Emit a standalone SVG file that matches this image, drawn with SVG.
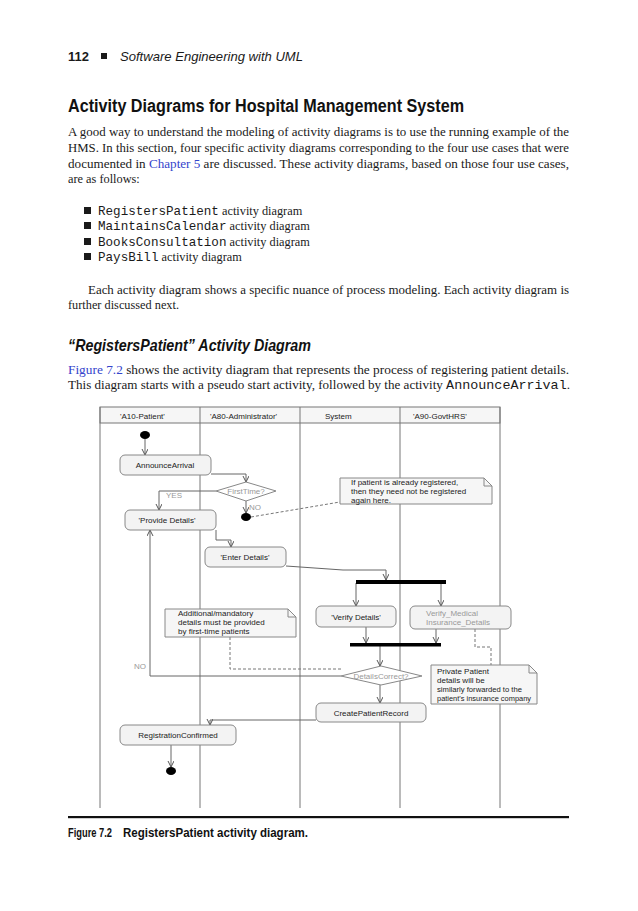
<svg xmlns="http://www.w3.org/2000/svg" width="638" height="911" viewBox="0 0 638 911">
<style>
.serif{font-family:"Liberation Serif","Times New Roman",serif;font-size:12.3px;fill:#1a1a1a}
.mono{font-family:"Liberation Mono","Courier New",monospace;font-size:12.6px;fill:#1a1a1a}
.sans{font-family:"Liberation Sans",Arial,sans-serif}
.d{font-family:"Liberation Sans",Arial,sans-serif;font-size:8px;fill:#222}
.g{font-family:"Liberation Sans",Arial,sans-serif;font-size:8px;fill:#999}
.box{fill:#f3f3f3;stroke:#888;stroke-width:1}
.note{fill:#f6f6f6;stroke:#888;stroke-width:1}
.lane{stroke:#777;stroke-width:1;fill:none}
.c{fill:none;stroke:#666;stroke-width:1;marker-end:url(#ah)}
.dash{fill:none;stroke:#777;stroke-width:1;stroke-dasharray:3,2}
.blue{fill:#3344cc}
</style>
<defs>
<marker id="ah" markerUnits="userSpaceOnUse" markerWidth="8" markerHeight="8" refX="6" refY="3" orient="auto">
<path d="M0,0 L6,3 L0,6" fill="none" stroke="#555" stroke-width="1"/>
</marker>
</defs>
<rect width="638" height="911" fill="#fff"/>

<g id="page-text">
<text x="68" y="61" class="sans" font-size="13" font-weight="bold" fill="#1a1a1a">112</text>
<rect x="101" y="53" width="6" height="6" fill="#1a1a1a"/>
<text x="120" y="61" class="sans" font-size="13" font-style="italic" fill="#1a1a1a" textLength="183" lengthAdjust="spacingAndGlyphs">Software Engineering with UML</text>
<text x="68" y="112" class="sans" font-size="18" font-weight="bold" fill="#111" textLength="396" lengthAdjust="spacingAndGlyphs">Activity Diagrams for Hospital Management System</text>
<text x="68" y="136" class="serif" textLength="501" lengthAdjust="spacingAndGlyphs">A good way to understand the modeling of activity diagrams is to use the running example of the</text>
<text x="68" y="152" class="serif" textLength="501" lengthAdjust="spacingAndGlyphs">HMS. In this section, four specific activity diagrams corresponding to the four use cases that were</text>
<text x="68" y="168" class="serif" textLength="501" lengthAdjust="spacingAndGlyphs">documented in <tspan class="blue">Chapter 5</tspan> are discussed. These activity diagrams, based on those four use cases,</text>
<text x="68" y="183" class="serif">are as follows:</text>

<rect x="84" y="207" width="7" height="7" fill="#1a1a1a"/>
<text x="98" y="215"><tspan class="mono">RegistersPatient</tspan><tspan class="serif"> activity diagram</tspan></text>
<rect x="84" y="222" width="7" height="7" fill="#1a1a1a"/>
<text x="98" y="230"><tspan class="mono">MaintainsCalendar</tspan><tspan class="serif"> activity diagram</tspan></text>
<rect x="84" y="238" width="7" height="7" fill="#1a1a1a"/>
<text x="98" y="246"><tspan class="mono">BooksConsultation</tspan><tspan class="serif"> activity diagram</tspan></text>
<rect x="84" y="253" width="7" height="7" fill="#1a1a1a"/>
<text x="98" y="261"><tspan class="mono">PaysBill</tspan><tspan class="serif"> activity diagram</tspan></text>

<text x="88" y="294" class="serif" textLength="481" lengthAdjust="spacingAndGlyphs">Each activity diagram shows a specific nuance of process modeling. Each activity diagram is</text>
<text x="68" y="309" class="serif">further discussed next.</text>

<text x="68" y="351" class="sans" font-size="16.5" font-weight="bold" font-style="italic" fill="#111" textLength="243" lengthAdjust="spacingAndGlyphs">“RegistersPatient” Activity Diagram</text>
<text x="68" y="374" class="serif" textLength="501" lengthAdjust="spacingAndGlyphs"><tspan class="blue">Figure 7.2</tspan> shows the activity diagram that represents the process of registering patient details.</text>
<text x="68" y="389" textLength="502" lengthAdjust="spacingAndGlyphs"><tspan class="serif">This diagram starts with a pseudo start activity, followed by the activity </tspan><tspan class="mono">AnnounceArrival</tspan><tspan class="serif">.</tspan></text>

<rect x="68" y="816" width="501" height="2.2" fill="#111"/>
<text x="68" y="837" class="sans" font-size="12" font-weight="bold" fill="#111" textLength="44" lengthAdjust="spacingAndGlyphs">Figure 7.2</text>
<text x="123" y="837" class="sans" font-size="12" font-weight="bold" fill="#111" textLength="185" lengthAdjust="spacingAndGlyphs">RegistersPatient activity diagram.</text>
</g>

<g id="swimlanes">
<rect x="100" y="407" width="400" height="16" fill="#f6f6f6" stroke="#777"/>
<line class="lane" x1="100" y1="407" x2="100" y2="808"/>
<line class="lane" x1="200" y1="407" x2="200" y2="808"/>
<line class="lane" x1="300" y1="407" x2="300" y2="808"/>
<line class="lane" x1="400" y1="407" x2="400" y2="808"/>
<line class="lane" x1="500" y1="407" x2="500" y2="808"/>
<text x="120" y="419" class="d">'A10-Patient'</text>
<text x="210" y="419" class="d">'A80-Administrator'</text>
<text x="325" y="419" class="d">System</text>
<text x="413" y="419" class="d">'A90-GovtHRS'</text>
</g>

<g id="connectors">
<path class="c" d="M145,439 V455"/>
<path class="c" d="M211,474 H246 V482"/>
<path class="c" d="M216,491 H159 V510"/>
<path class="c" d="M246,501 V513"/>
<path class="c" d="M216,530 V540 H231 V547"/>
<path class="c" d="M286,566 L343,570 H386 V580"/>
<path class="c" d="M356,583 V606"/>
<path class="c" d="M441,583 V606"/>
<path class="c" d="M366,627 V643"/>
<path class="c" d="M436,629 V643"/>
<path class="c" d="M380,646 V666"/>
<path class="c" d="M380,685 V703"/>
<path class="c" d="M341,676 H150 V530"/>
<path class="c" d="M316,720 H210 V725"/>
<path class="c" d="M171,745 V767"/>
<path class="dash" d="M251,517 L340,502"/>
<path class="dash" d="M230,637 V669 H343"/>
<path class="dash" d="M475,629 V647 H491 V665"/>
<text x="166" y="498" class="g">YES</text>
<text x="249" y="510" class="g">NO</text>
<text x="134" y="669" class="g">NO</text>
</g>

<g id="start"><ellipse cx="145" cy="435" rx="5" ry="4" fill="#000"/></g>

<g id="AnnounceArrival">
<rect class="box" x="120" y="455" width="91" height="20" rx="5"/>
<text x="165" y="468" class="d" text-anchor="middle">AnnounceArrival</text>
</g>

<g id="FirstTime">
<polygon points="216,491 246,482 276,491 246,501" fill="#fff" stroke="#888"/>
<text x="246" y="494" class="g" text-anchor="middle">FirstTime?</text>
</g>

<g id="end1"><ellipse cx="246" cy="517" rx="5" ry="4" fill="#000"/></g>

<g id="note1">
<path class="note" d="M340,478 H484 L492,486 V504 H340 Z"/>
<path d="M484,478 V486 H492" fill="none" stroke="#888"/>
<text x="351" y="485" class="d">If patient is already registered,</text>
<text x="351" y="494" class="d">then they need not be registered</text>
<text x="351" y="503" class="d">again here.</text>
</g>

<g id="ProvideDetails">
<rect class="box" x="125" y="510" width="91" height="20" rx="5"/>
<text x="167" y="523" class="d" text-anchor="middle">'Provide Details'</text>
</g>

<g id="EnterDetails">
<rect class="box" x="205" y="547" width="81" height="20" rx="5"/>
<text x="245" y="560" class="d" text-anchor="middle">'Enter Details'</text>
</g>

<g id="fork"><rect x="356" y="580" width="90" height="4" fill="#000"/></g>

<g id="note2">
<path class="note" d="M165,609 H288 L296,617 V637 H165 Z"/>
<path d="M288,609 V617 H296" fill="none" stroke="#888"/>
<text x="178" y="616" class="d">Additional/mandatory</text>
<text x="178" y="625" class="d">details must be provided</text>
<text x="178" y="634" class="d">by first-time patients</text>
</g>

<g id="VerifyDetails">
<rect class="box" x="316" y="606" width="80" height="21" rx="5"/>
<text x="356" y="620" class="d" text-anchor="middle">'Verify Details'</text>
</g>

<g id="VerifyMedical">
<rect class="box" x="410" y="606" width="101" height="23" rx="5"/>
<text x="426" y="616" class="g">Verify_Medical</text>
<text x="426" y="625" class="g">Insurance_Details</text>
</g>

<g id="join"><rect x="350" y="643" width="91" height="3.5" fill="#000"/></g>

<g id="DetailsCorrect">
<polygon points="341,676 381,666 422,676 381,685" fill="#fff" stroke="#888"/>
<text x="381" y="679" class="g" text-anchor="middle">DetailsCorrect?</text>
</g>

<g id="note3">
<path class="note" d="M431,665 H529 L537,673 V704 H431 Z"/>
<path d="M529,665 V673 H537" fill="none" stroke="#888"/>
<text x="437" y="674" class="d">Private Patient</text>
<text x="437" y="683" class="d">details will be</text>
<text x="437" y="692" class="d" textLength="85" lengthAdjust="spacingAndGlyphs">similarly forwarded to the</text>
<text x="437" y="701" class="d" textLength="94" lengthAdjust="spacingAndGlyphs">patient's insurance company</text>
</g>

<g id="CreatePatientRecord">
<rect class="box" x="316" y="703" width="110" height="19" rx="5"/>
<text x="371" y="716" class="d" text-anchor="middle">CreatePatientRecord</text>
</g>

<g id="RegistrationConfirmed">
<rect class="box" x="120" y="725" width="116" height="20" rx="5"/>
<text x="178" y="738" class="d" text-anchor="middle">RegistrationConfirmed</text>
</g>

<g id="end2"><ellipse cx="171" cy="771" rx="5" ry="4" fill="#000"/></g>
</svg>
